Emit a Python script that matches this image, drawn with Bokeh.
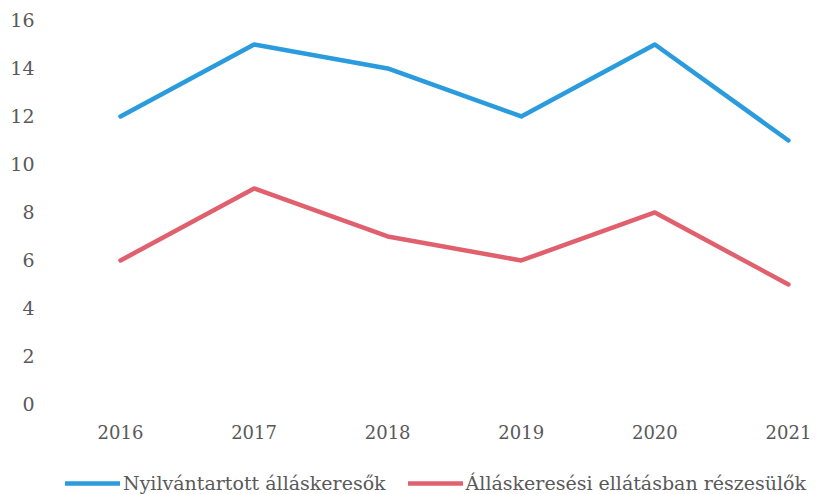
from bokeh.plotting import figure
from bokeh.models import Range1d, FixedTicker, Legend, LegendItem
from bokeh.embed import file_html
from bokeh.resources import INLINE

years = [2016, 2017, 2018, 2019, 2020, 2021]
registered = [12, 15, 14, 12, 15, 11]
benefit = [6, 9, 7, 6, 8, 5]
y_ticks = [0, 2, 4, 6, 8, 10, 12, 14, 16]
series_names = ["Nyilvántartott álláskeresők", "Álláskeresési ellátásban részesülők"]
colors = ["#2A9BDD", "#E0606E"]

FONT = "DejaVu Serif"
TXT = "#595959"

p = figure(width=811, height=446, output_backend="svg", toolbar_location=None,
           x_range=Range1d(2015.521, 2021.135), y_range=Range1d(-0.417, 16.29),
           min_border_left=56, min_border_right=5, min_border_top=13, min_border_bottom=32)
p.outline_line_color = None
p.grid.visible = False

p.line(years, registered, line_color=colors[0], line_width=4.5, line_cap="round", line_join="round")
p.line(years, benefit, line_color=colors[1], line_width=4.5, line_cap="round", line_join="round")

for ax in (p.xaxis[0], p.yaxis[0]):
    ax.axis_line_color = None
    ax.major_tick_line_color = None
    ax.minor_tick_line_color = None
    ax.major_label_text_font = FONT
    ax.major_label_text_color = TXT

p.xaxis[0].major_label_text_font_size = "18px"
p.yaxis[0].major_label_text_font_size = "19px"
p.xaxis[0].ticker = FixedTicker(ticks=years)
p.xaxis[0].major_label_standoff = 4
p.yaxis[0].ticker = FixedTicker(ticks=y_ticks)
p.yaxis[0].major_label_standoff = 16

# legend strip below the chart (series drawn outside its visible range; only the legend shows)
lg = figure(width=811, height=48, output_backend="svg", toolbar_location=None,
            x_axis_type=None, y_axis_type=None,
            x_range=Range1d(0, 1), y_range=Range1d(0, 1),
            min_border_left=0, min_border_right=0, min_border_top=0, min_border_bottom=0)
lg.grid.visible = False
lg.outline_line_color = None
d1 = lg.line(years, registered, line_color=colors[0], line_width=4.5, line_cap="round")
d2 = lg.line(years, benefit, line_color=colors[1], line_width=4.5, line_cap="round")

legend = Legend(items=[LegendItem(label=series_names[0], renderers=[d1]),
                       LegendItem(label=series_names[1], renderers=[d2])],
                orientation="horizontal", location=(65, 0),
                label_text_font=FONT, label_text_font_size="19px", label_text_color=TXT,
                glyph_width=55, glyph_height=18, spacing=22, padding=0, margin=0,
                border_line_color=None, background_fill_alpha=0, label_standoff=3)
lg.add_layout(legend)

open("out.html", "w").write(file_html([p, lg], INLINE))
